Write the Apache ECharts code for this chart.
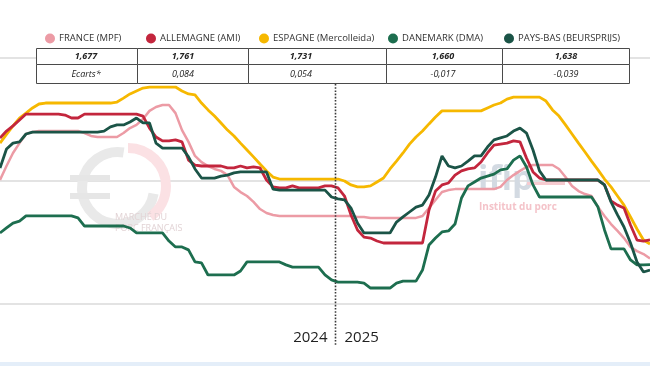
<!DOCTYPE html>
<html><head><meta charset="utf-8">
<script src="https://cdn.jsdelivr.net/npm/echarts@6/dist/echarts.min.js"></script>
<style>html,body{margin:0;padding:0;background:#fff}#c{width:650px;height:366px}</style>
</head><body><div id="c"></div>
<script>
// weekly points: 2024 W1..W52, 2025 W1..W49
const weeks = [1,2,3,4,5,6,7,8,9,10,11,12,13,14,15,16,17,18,19,20,21,22,23,24,25,26,27,28,29,30,31,32,33,34,35,36,37,38,39,40,41,42,43,44,45,46,47,48,49,50,51,52,
1,2,3,4,5,6,7,8,9,10,11,12,13,14,15,16,17,18,19,20,21,22,23,24,25,26,27,28,29,30,31,32,33,34,35,36,37,38,39,40,41,42,43,44,45,46,47,48,49];
const yearLabels = ['2024','2025'];
const seriesNames = ['FRANCE (MPF)','ALLEMAGNE (AMI)','ESPAGNE (Mercolleida)','DANEMARK (DMA)','PAYS-BAS (BEURSPRIJS)'];
const latestRow = ['1,677','1,761','1,731','1,660','1,638'];
const ecartsRow = ['Ecarts*','0,084','0,054','-0,017','-0,039'];

const france = [2.004,2.061,2.114,2.154,2.191,2.199,2.203,
2.203,2.203,2.203,2.203,2.203,2.203,
2.195,2.183,
2.179,2.179,2.179,2.179,
2.195,2.215,2.228,2.252,2.285,2.301,2.309,2.309,2.276,2.207,2.159,2.102,2.077,2.061,2.049,2.041,2.024,1.976,1.955,1.939,1.915,1.886,1.870,1.862,
1.858,1.858,1.858,1.858,1.858,1.858,1.858,1.858,1.858,1.858,1.858,1.858,
1.854,1.854,
1.850,1.850,1.850,1.850,1.850,1.850,1.850,1.850,
1.858,1.890,1.923,1.955,1.963,
1.967,1.967,1.967,1.967,1.967,1.967,1.967,
1.976,2.004,2.024,2.041,2.057,
2.065,2.065,2.065,2.065,
2.049,2.016,1.980,1.959,1.947,1.939,1.894,1.858,1.825,1.797,1.768,1.732,1.715,1.703,1.685];

const allemagne = [2.175,2.203,2.224,2.248,2.272,
2.272,2.272,2.272,2.272,2.272,
2.268,2.256,2.256,2.272,
2.272,2.272,2.272,2.272,2.272,2.272,2.272,2.272,
2.264,2.215,2.179,2.163,2.163,2.167,2.159,2.085,2.065,
2.061,2.061,2.061,2.061,
2.053,2.053,2.061,2.053,2.057,2.053,
2.004,1.976,1.972,1.972,1.980,
1.972,1.972,1.972,1.972,
1.980,1.980,1.972,1.939,1.862,1.801,1.772,1.768,1.756,
1.748,1.748,1.748,1.748,1.748,1.748,1.748,
1.882,1.959,1.984,1.992,2.024,2.041,2.049,2.053,2.077,2.114,2.146,2.150,2.154,2.163,2.159,
2.093,2.037,2.012,
2.004,2.004,2.004,2.004,2.004,2.004,2.004,2.004,2.004,
1.984,1.919,1.902,1.890,1.821,1.760,1.756,1.761];

const espagne = [2.154,2.189,2.224,2.256,2.276,2.297,2.313,
2.317,2.317,2.317,2.317,2.317,2.317,2.317,2.317,2.317,2.317,2.317,
2.321,2.337,2.354,2.366,2.378,2.382,
2.382,2.382,2.382,2.382,
2.366,2.354,2.350,2.317,2.289,2.264,2.236,2.207,2.183,2.154,2.126,2.098,2.069,2.041,2.016,
2.008,2.008,2.008,2.008,2.008,2.008,2.008,2.008,2.008,2.008,
2.000,1.984,1.976,1.976,1.980,1.996,2.012,2.049,2.081,2.114,2.150,2.179,2.203,2.232,2.260,2.285,
2.285,2.285,2.285,2.285,2.285,2.285,
2.297,2.309,2.317,2.333,2.341,
2.341,2.341,2.341,2.341,
2.325,2.289,2.264,2.228,2.191,2.154,2.118,2.081,2.045,2.008,1.976,1.939,1.902,1.854,1.805,1.760,1.744];

const danemark = [1.789,1.809,1.829,1.837,1.858,
1.858,1.858,1.858,1.858,1.858,1.858,1.858,
1.850,1.817,
1.817,1.817,1.817,1.817,1.817,1.817,
1.809,
1.789,1.789,1.789,1.789,1.789,
1.756,1.732,1.732,1.720,1.671,1.667,
1.618,1.618,1.618,1.618,1.618,
1.634,
1.671,1.671,1.671,1.671,1.671,1.671,
1.659,
1.650,1.650,1.650,1.650,1.650,
1.618,1.598,
1.589,1.589,1.589,1.589,
1.585,
1.565,1.565,1.565,1.565,
1.585,
1.593,1.593,1.593,
1.638,1.740,1.768,1.793,1.797,1.825,1.931,1.980,1.996,2.012,2.020,2.028,2.045,2.049,2.085,2.102,2.057,1.984,
1.935,1.935,1.935,1.935,1.935,1.935,1.935,1.935,1.935,
1.894,1.801,
1.724,1.724,1.724,
1.679,1.659,1.659,1.660];

const paysBas = [2.053,2.130,2.154,2.159,2.191,
2.199,2.199,2.199,2.199,2.199,2.199,2.199,2.199,2.199,2.199,2.199,
2.203,2.220,2.228,2.228,2.240,2.256,2.236,2.236,2.154,
2.134,2.134,2.134,2.134,
2.098,2.049,
2.012,2.012,2.012,
2.020,2.024,2.033,
2.037,2.037,2.037,2.037,2.037,
1.967,
1.963,1.963,1.963,1.963,1.963,1.963,1.963,1.963,
1.935,1.927,1.923,1.890,1.829,
1.789,1.789,1.789,1.789,1.789,
1.833,1.854,1.874,1.894,1.902,1.943,2.016,2.102,2.061,2.053,2.061,2.081,2.102,2.102,2.138,2.167,2.175,2.183,2.203,2.215,2.195,2.126,2.041,
2.004,2.004,2.004,2.004,2.004,2.004,2.004,2.004,2.004,
1.984,1.915,1.862,1.813,1.748,1.671,1.630,1.638];

const colors = ['#ec9ba5','#c3263d','#f6b800','#1d6e4f','#1b5447'];
const allSeries = [france, allemagne, espagne, danemark, paysBas];
const drawOrder = [0,2,1,3,4];
const yearBreak = 51.5; // between 2024 W52 and 2025 W1

const chart = echarts.init(document.getElementById('c'), null, {renderer:'canvas'});

const FONT = '"Open Sans", "Noto Sans", sans-serif';

function buildGraphic(divX){
  const g = [];
  // bottom band
  g.push({type:'rect', z:1, shape:{x:0,y:362,width:650,height:4}, style:{fill:'#e4eef9'}});
  // watermarks
  g.push({type:'arc', z:1, shape:{cx:118,cy:188,r:36,startAngle:Math.PI*0.05,endAngle:Math.PI*1.55,clockwise:true}, style:{stroke:'#e9e9e9',lineWidth:10,fill:null}});
  g.push({type:'rect', z:1, shape:{x:70,y:175,width:40,height:6}, style:{fill:'#e6e6e6'}});
  g.push({type:'rect', z:1, shape:{x:70,y:193,width:40,height:6}, style:{fill:'#e6e6e6'}});
  g.push({type:'arc', z:1, shape:{cx:128,cy:186,r:38,startAngle:-Math.PI*0.5,endAngle:Math.PI*0.3,clockwise:true}, style:{stroke:'#fbe1e4',lineWidth:10,fill:null}});
  g.push({type:'text', z:1, style:{text:'MARCHÉ DU', x:115, y:217, font:'9px '+FONT, fill:'#e2d3d5', textVerticalAlign:'middle', verticalAlign:'middle'}});
  g.push({type:'text', z:1, style:{text:'PORC FRANÇAIS', x:115, y:228, font:'9px '+FONT, fill:'#e2d3d5', textVerticalAlign:'middle', verticalAlign:'middle'}});
  g.push({type:'text', z:1, style:{text:'ifip', x:478, y:180, font:'bold 34px '+FONT, fill:'#d3dae2', textVerticalAlign:'middle', verticalAlign:'middle'}});
  g.push({type:'rect', z:1, shape:{x:527,y:182,width:38,height:3}, style:{fill:'#f6cbd0'}});
  g.push({type:'text', z:1, style:{text:'Institut du porc', x:479, y:207, font:'bold 10px '+FONT, fill:'#f4c3c9', textVerticalAlign:'middle', verticalAlign:'middle'}});

  // table
  const colX = [36,137,248,386,502,629];
  const textX = [86,183,301,443,566];
  const legX = [50,151,264,393,509];
  const rows = [48,64,83];
  for (let c=0;c<5;c++){
    for (let r=0;r<2;r++){
      g.push({type:'rect', z:100, shape:{x:colX[c]+0.5,y:rows[r]+0.5,width:colX[c+1]-colX[c],height:rows[r+1]-rows[r]}, style:{fill:'#fff',stroke:'#4a4a4a',lineWidth:1}});
    }
    g.push({type:'text', z:101, style:{text:latestRow[c], x:textX[c], y:56.5, font:'italic bold 9px '+FONT, fill:'#222', textAlign:'center', align:'center', textVerticalAlign:'middle', verticalAlign:'middle'}});
    g.push({type:'text', z:101, style:{text:ecartsRow[c], x:textX[c], y:74, font:'italic 9px '+FONT, fill:'#222', textAlign:'center', align:'center', textVerticalAlign:'middle', verticalAlign:'middle'}});
    g.push({type:'circle', z:101, shape:{cx:legX[c], cy:38.5, r:5}, style:{fill:colors[c]}});
    g.push({type:'text', z:101, style:{text:seriesNames[c], x:legX[c]+9, y:38.5, font:'9.5px '+FONT, fill:'#333', textVerticalAlign:'middle', verticalAlign:'middle'}});
  }
  // year divider
  if (divX != null){
    g.push({type:'line', z:50, shape:{x1:divX,y1:84,x2:divX,y2:346}, style:{stroke:'#3a3a3a',lineWidth:1.6,lineDash:[1.6,1.6]}});
    g.push({type:'text', z:50, style:{text:yearLabels[0], x:divX-8, y:338, font:'15px '+FONT, fill:'#222', textAlign:'right', align:'right', textVerticalAlign:'middle', verticalAlign:'middle'}});
    g.push({type:'text', z:50, style:{text:yearLabels[1], x:divX+9, y:338, font:'15px '+FONT, fill:'#222', textAlign:'left', align:'left', textVerticalAlign:'middle', verticalAlign:'middle'}});
  }
  return g;
}

const option = {
  animation:false,
  backgroundColor:'#fff',
  grid:{left:0,right:0,top:58,bottom:62,containLabel:false},
  xAxis:{type:'value',min:0,max:weeks.length-1,show:true,axisLine:{show:false},axisTick:{show:false},axisLabel:{show:false},splitLine:{show:false}},
  yAxis:{type:'value',min:1.5,max:2.5,interval:0.5,axisLine:{show:false},axisTick:{show:false},axisLabel:{show:false},
    splitLine:{show:true,lineStyle:{color:'#dadada',width:1.5}}},
  series: drawOrder.map(k => ({
    name: seriesNames[k], type:'line', showSymbol:false, symbol:'none', z:2+drawOrder.indexOf(k)*0.01,
    lineStyle:{color:colors[k], width:k===0?2.5:2.8}, itemStyle:{color:colors[k]},
    data: allSeries[k].map((v,i)=>[i,v])
  })),
  graphic: buildGraphic(null)
};
chart.setOption(option);
const divX = Math.round(chart.convertToPixel({xAxisIndex:0}, yearBreak)) + 0.5;
chart.setOption({graphic: buildGraphic(divX)}, {replaceMerge:['graphic']});
</script>
</body></html>
